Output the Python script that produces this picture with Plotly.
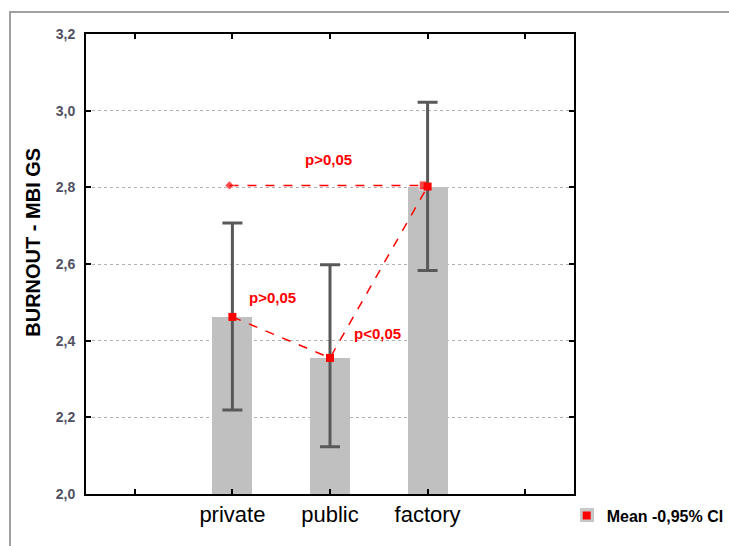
import plotly.graph_objects as go

categories = ["private", "public", "factory"]
cat_pos = [1, 2, 3]
means = [2.462, 2.355, 2.802]
ci_upper = [2.707, 2.598, 3.022]
ci_lower = [2.219, 2.123, 2.583]
ref_level = [2.805, 2.805]
ref_pos = [0.97, 2.96]
p_labels = ["p>0,05", "p>0,05", "p<0,05"]
p_x = [1.98, 1.41, 2.49]
p_y = [2.872, 2.512, 2.42]
y_ticks = [2.0, 2.2, 2.4, 2.6, 2.8, 3.0, 3.2]
y_ticktext = ["2,0", "2,2", "2,4", "2,6", "2,8", "3,0", "3,2"]

err_plus = [u - m for u, m in zip(ci_upper, means)]
err_minus = [m - l for m, l in zip(means, ci_lower)]

fig = go.Figure()
fig.add_trace(go.Bar(x=cat_pos, y=means, width=0.41, marker_color="#c0c0c0",
                     marker_line_width=0, showlegend=False, hoverinfo="skip"))
fig.add_trace(go.Scatter(x=cat_pos, y=means, mode="lines", showlegend=False,
                         line=dict(color="red", width=1.5, dash="dash")))
fig.add_trace(go.Scatter(x=ref_pos, y=ref_level, mode="lines+markers", showlegend=False,
                         line=dict(color="red", width=1.5, dash="dash"),
                         marker=dict(color="red", size=[7, 9], symbol=["diamond", "square"])))
fig.add_trace(go.Scatter(x=cat_pos, y=means, mode="markers", name="Mean -0,95% CI",
                         marker=dict(color="red", size=8, symbol="square"),
                         error_y=dict(type="data", symmetric=False, array=err_plus,
                                      arrayminus=err_minus, color="#595959",
                                      thickness=3, width=10)))

for t, x, y in zip(p_labels, p_x, p_y):
    fig.add_annotation(x=x, y=y, text=t, showarrow=False, xanchor="center", yanchor="middle",
                       font=dict(family="Liberation Sans", size=15, color="red", weight="bold"))

fig.add_annotation(xref="paper", yref="paper", x=-0.109, y=0.548, text="BURNOUT - MBI GS",
                   textangle=-90, showarrow=False, xanchor="center", yanchor="middle",
                   font=dict(family="Liberation Sans", size=20, color="black", weight="bold"))

# outer frame
fig.add_shape(type="rect", xref="paper", yref="paper", x0=-0.1557, x1=1.4, y0=-0.2, y1=1.048,
              line=dict(color="#a0a0a0", width=2), layer="below")
# grey box behind legend symbol
fig.add_shape(type="rect", xref="paper", yref="paper", x0=1.0123, x1=1.041, y0=-0.0609, y1=-0.0304,
              line=dict(width=0), fillcolor="#c8c8c8", layer="below")

fig.update_layout(
    width=729, height=546,
    margin=dict(l=86, r=155, t=34, b=52, autoexpand=False),
    plot_bgcolor="white", paper_bgcolor="white",
    font=dict(family="Liberation Sans"),
    bargap=0,
    legend=dict(x=0.985, y=-0.01, xanchor="left", yanchor="top", itemwidth=30,
                font=dict(family="Liberation Sans", size=16, color="black", weight="bold"),
                bgcolor="rgba(0,0,0,0)"),
)
fig.update_xaxes(range=[-0.5, 4.5], tickvals=[0, 1, 2, 3, 4],
                 ticktext=[""] + categories + [""],
                 ticks="inside", ticklen=5, tickcolor="black", tickwidth=1.5,
                 showline=True, linecolor="black", linewidth=2, mirror="allticks",
                 showgrid=False, zeroline=False,
                 tickfont=dict(family="Liberation Sans", size=22, color="black"))
fig.update_yaxes(range=[2.0, 3.2], tickvals=y_ticks, ticktext=y_ticktext,
                 ticks="inside", ticklen=5, tickcolor="black", tickwidth=1.5,
                 showline=True, linecolor="black", linewidth=2, mirror="allticks",
                 showgrid=True, gridcolor="#b0b0b0", griddash="dot", gridwidth=1,
                 zeroline=False, ticklabelstandoff=6,
                 tickfont=dict(family="Liberation Sans", size=14, color="#505062", weight="bold"))

fig.write_html("out.html", config={"displayModeBar": False},
               post_script="document.body.style.margin='0';document.body.style.overflow='hidden';")
